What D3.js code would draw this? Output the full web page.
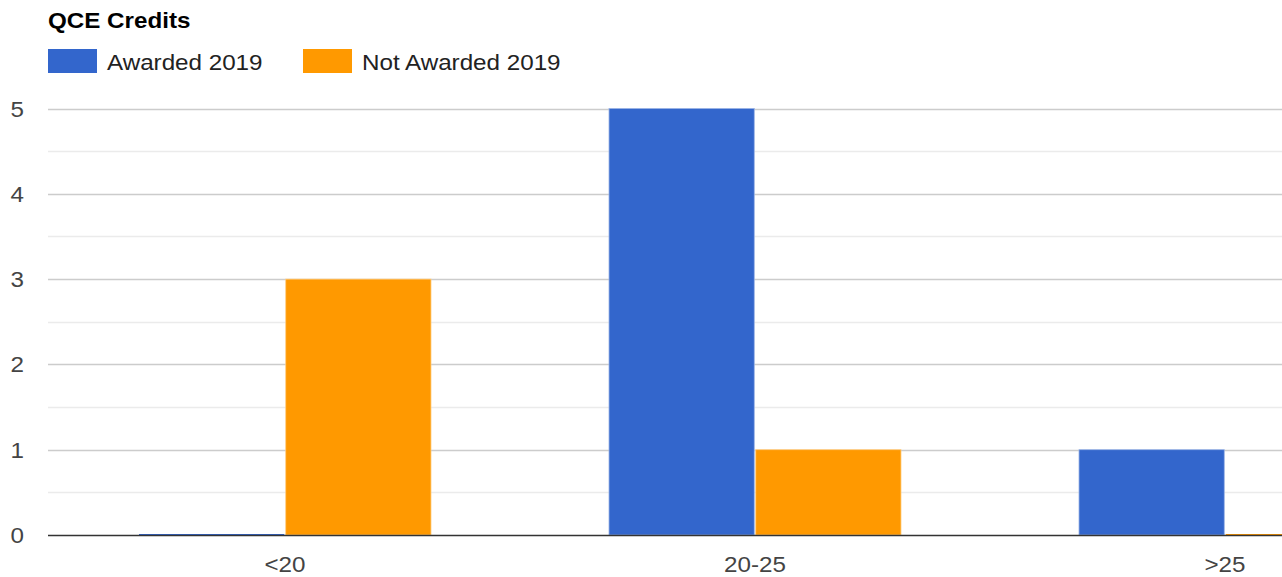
<!DOCTYPE html>
<html>
<head>
<meta charset="utf-8">
<script src="https://cdn.jsdelivr.net/npm/d3@7"></script>
<style>
  html, body { margin: 0; padding: 0; background: #fff; overflow: hidden; }
  svg { display: block; font-family: "Liberation Sans", Arial, sans-serif; }
</style>
</head>
<body>
<svg id="chart"></svg>
<script>
// data
const categories = ['<20', '20-25', '>25'];
const seriesNames = ['Awarded 2019', 'Not Awarded 2019'];
const awarded = [0, 5, 1];
const notAwarded = [3, 1, 0];
const yTicks = [0, 1, 2, 3, 4, 5];

const W = 1282, H = 577;
const colors = ['#3366cc', '#ff9900'];
const sx = 1.1; // reference text is a bit wide

const svg = d3.select('#chart').attr('width', W).attr('height', H);

// plot runs off the right side of the window, as in the reference
const plotLeft = 50, plotW = 1410, plotTop = 108.5, plotBottom = 535;

const x0 = d3.scaleBand().domain(categories).range([plotLeft, plotLeft + plotW]);
const x1 = d3.scaleBand().domain(seriesNames).range([0, 292]).paddingInner(0.01);
const y = d3.scaleLinear().domain([0, 5]).range([plotBottom, plotTop]);

function wideText(sel, x, yy) {
  return sel.attr('transform', `translate(${x},${yy}) scale(${sx},1)`);
}

// minor gridlines
const g = svg.append('g');
d3.range(0.5, 5, 1).forEach(v => {
  g.append('line').attr('x1', 48).attr('x2', W).attr('y1', Math.round(y(v)) + 0.5).attr('y2', Math.round(y(v)) + 0.5)
    .attr('stroke', '#ebebeb').attr('stroke-width', 1.5);
});
// major gridlines
yTicks.slice(1).forEach(v => {
  g.append('line').attr('x1', 48).attr('x2', W).attr('y1', Math.round(y(v)) + 0.5).attr('y2', Math.round(y(v)) + 0.5)
    .attr('stroke', '#cccccc').attr('stroke-width', 1.5);
});

// y tick labels
yTicks.forEach(v => {
  wideText(svg.append('text'), 24, y(v) + 8)
    .attr('text-anchor', 'end').attr('font-size', 22).attr('fill', '#444').text(v);
});

// bars
const rows = categories.map((c, i) => ({ cat: c, vals: [awarded[i], notAwarded[i]] }));
const groups = svg.append('g').selectAll('g').data(rows).join('g')
  .attr('transform', d => `translate(${x0(d.cat) + x0.bandwidth() / 2 - 146},0)`);
groups.selectAll('rect').data(d => d.vals.map((v, j) => ({ v, j }))).join('rect')
  .attr('x', d => x1(seriesNames[d.j]))
  .attr('width', x1.bandwidth())
  .attr('y', d => Math.min(y(d.v), plotBottom - 1))
  .attr('height', d => Math.max(plotBottom - y(d.v), 1))
  .attr('fill', d => colors[d.j])
  .attr('stroke', d => d.v ? d3.interpolateRgb(colors[d.j], '#fff')(0.5) : 'none')
  .attr('stroke-width', 0.8);

// baseline
svg.append('line').attr('x1', 48).attr('x2', W).attr('y1', plotBottom + 0.5).attr('y2', plotBottom + 0.5)
  .attr('stroke', '#333').attr('stroke-width', 1.5);

// x labels
categories.forEach(c => {
  wideText(svg.append('text'), x0(c) + x0.bandwidth() / 2, 572)
    .attr('text-anchor', 'middle').attr('font-size', 22).attr('fill', '#444').text(c);
});

// title
wideText(svg.append('text'), 48, 28)
  .attr('font-size', 22).attr('font-weight', 'bold').attr('fill', '#000').text('QCE Credits');

// legend
const legendX = [48, 303];
seriesNames.forEach((s, i) => {
  svg.append('rect').attr('x', legendX[i]).attr('y', 49).attr('width', 49).attr('height', 24)
    .attr('fill', colors[i]);
  wideText(svg.append('text'), legendX[i] + 59, 70)
    .attr('font-size', 22).attr('fill', '#222').text(s);
});
</script>
</body>
</html>
